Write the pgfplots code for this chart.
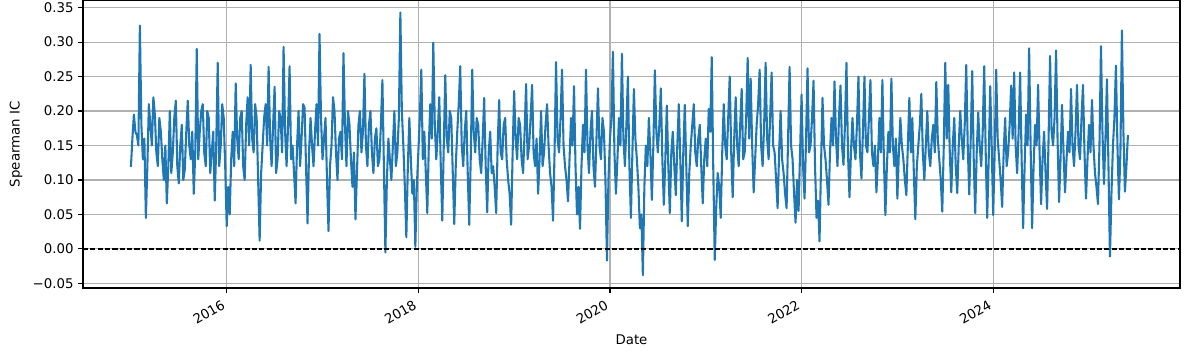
\documentclass[border=0pt]{standalone}
\usepackage{fontspec}
\setmainfont{DejaVu Sans}
\usepackage{pgfplots}
\pgfplotsset{compat=1.18}
\definecolor{tabblue}{HTML}{1F77B4}
\definecolor{gridgray}{HTML}{B0B0B0}
\begin{document}
\begin{tikzpicture}
\begin{axis}[
  at={(0,0)}, anchor=south west,
  scale only axis, width=822.75pt, height=215.7pt,
  xmin=2014.50, xmax=2025.95, ymin=-0.0567, ymax=0.3605,
  xtick={2016,2018,2020,2022,2024},
  xticklabels={2016,2018,2020,2022,2024},
  ytick={-0.05,0,0.05,0.1,0.15,0.2,0.25,0.3,0.35},
  yticklabels={−0.05,0.00,0.05,0.10,0.15,0.20,0.25,0.30,0.35},
  grid=major, grid style={gridgray, line width=0.83pt},
  axis line style={line width=0.83pt},
  tick style={black, line width=0.83pt},
  tick align=outside, major tick length=3.6pt,
  xtick pos=left, ytick pos=left,
  ticklabel style={font=\fontsize{10}{12}\selectfont},
  xticklabel style={xshift=-3pt, rotate=30, anchor=north east},
  xlabel={Date}, ylabel={Spearman IC},
  label style={font=\fontsize{10}{12}\selectfont},
  xlabel style={at={(axis description cs:0.5,-0.181)}, anchor=center},
  ylabel style={at={(axis description cs:-0.0611,0.5)}, anchor=center},
]
\addplot[tabblue, line width=1.56pt, line join=round] table[x expr=2015+\coordindex*0.015625, y index=0, header=false, row sep=\\] {
0.119\\ 0.16\\ 0.195\\ 0.17\\ 0.165\\ 0.15\\ 0.324\\ 0.18\\ 0.13\\ 0.16\\ 0.045\\ 0.12\\ 0.21\\ 0.18\\ 0.15\\ 0.22\\ 0.195\\ 0.14\\ 0.12\\ 0.19\\
0.17\\ 0.13\\ 0.10\\ 0.15\\ 0.066\\ 0.12\\ 0.20\\ 0.11\\ 0.14\\ 0.19\\ 0.215\\ 0.12\\ 0.095\\ 0.15\\ 0.18\\ 0.10\\ 0.115\\ 0.17\\ 0.215\\ 0.15\\
0.13\\ 0.17\\ 0.08\\ 0.14\\ 0.29\\ 0.13\\ 0.17\\ 0.20\\ 0.21\\ 0.14\\ 0.12\\ 0.20\\ 0.19\\ 0.11\\ 0.14\\ 0.17\\ 0.07\\ 0.15\\ 0.27\\ 0.12\\
0.15\\ 0.21\\ 0.19\\ 0.12\\ 0.033\\ 0.09\\ 0.05\\ 0.13\\ 0.17\\ 0.12\\ 0.24\\ 0.16\\ 0.13\\ 0.19\\ 0.20\\ 0.12\\ 0.10\\ 0.18\\ 0.22\\ 0.15\\
0.267\\ 0.16\\ 0.14\\ 0.21\\ 0.19\\ 0.10\\ 0.012\\ 0.11\\ 0.15\\ 0.19\\ 0.21\\ 0.15\\ 0.264\\ 0.16\\ 0.12\\ 0.18\\ 0.235\\ 0.11\\ 0.13\\ 0.20\\
0.19\\ 0.14\\ 0.293\\ 0.17\\ 0.12\\ 0.18\\ 0.265\\ 0.13\\ 0.15\\ 0.11\\ 0.066\\ 0.15\\ 0.20\\ 0.12\\ 0.16\\ 0.21\\ 0.205\\ 0.12\\ 0.037\\ 0.14\\
0.19\\ 0.15\\ 0.12\\ 0.17\\ 0.21\\ 0.15\\ 0.312\\ 0.19\\ 0.13\\ 0.16\\ 0.19\\ 0.10\\ 0.026\\ 0.12\\ 0.15\\ 0.22\\ 0.20\\ 0.14\\ 0.10\\ 0.16\\
0.17\\ 0.13\\ 0.284\\ 0.18\\ 0.12\\ 0.20\\ 0.18\\ 0.13\\ 0.09\\ 0.14\\ 0.043\\ 0.11\\ 0.18\\ 0.20\\ 0.14\\ 0.17\\ 0.254\\ 0.15\\ 0.12\\ 0.18\\
0.20\\ 0.14\\ 0.11\\ 0.16\\ 0.175\\ 0.12\\ 0.13\\ 0.18\\ 0.245\\ 0.12\\ -0.005\\ 0.10\\ 0.16\\ 0.13\\ 0.10\\ 0.15\\ 0.20\\ 0.12\\ 0.14\\ 0.19\\
0.343\\ 0.20\\ 0.15\\ 0.09\\ 0.017\\ 0.12\\ 0.19\\ 0.13\\ 0.08\\ 0.10\\ 0.003\\ 0.09\\ 0.14\\ 0.19\\ 0.26\\ 0.13\\ 0.17\\ 0.11\\ 0.052\\ 0.15\\
0.21\\ 0.16\\ 0.299\\ 0.18\\ 0.13\\ 0.17\\ 0.22\\ 0.12\\ 0.041\\ 0.15\\ 0.252\\ 0.16\\ 0.14\\ 0.20\\ 0.19\\ 0.11\\ 0.036\\ 0.12\\ 0.17\\ 0.21\\
0.265\\ 0.15\\ 0.12\\ 0.17\\ 0.20\\ 0.11\\ 0.035\\ 0.13\\ 0.26\\ 0.17\\ 0.14\\ 0.19\\ 0.18\\ 0.13\\ 0.11\\ 0.16\\ 0.219\\ 0.12\\ 0.053\\ 0.14\\
0.17\\ 0.11\\ 0.12\\ 0.09\\ 0.052\\ 0.15\\ 0.216\\ 0.14\\ 0.13\\ 0.18\\ 0.19\\ 0.13\\ 0.10\\ 0.08\\ 0.035\\ 0.14\\ 0.229\\ 0.16\\ 0.13\\ 0.19\\
0.18\\ 0.13\\ 0.11\\ 0.17\\ 0.239\\ 0.13\\ 0.15\\ 0.19\\ 0.238\\ 0.14\\ 0.12\\ 0.16\\ 0.08\\ 0.13\\ 0.20\\ 0.12\\ 0.14\\ 0.18\\ 0.21\\ 0.15\\
0.11\\ 0.09\\ 0.041\\ 0.14\\ 0.271\\ 0.16\\ 0.14\\ 0.19\\ 0.26\\ 0.15\\ 0.12\\ 0.10\\ 0.069\\ 0.13\\ 0.19\\ 0.15\\ 0.236\\ 0.12\\ 0.05\\ 0.09\\
0.029\\ 0.12\\ 0.18\\ 0.14\\ 0.26\\ 0.15\\ 0.11\\ 0.17\\ 0.20\\ 0.12\\ 0.09\\ 0.16\\ 0.233\\ 0.15\\ 0.13\\ 0.19\\ 0.17\\ 0.10\\ -0.017\\ 0.10\\
0.16\\ 0.19\\ 0.286\\ 0.14\\ 0.08\\ 0.13\\ 0.19\\ 0.15\\ 0.283\\ 0.16\\ 0.12\\ 0.18\\ 0.25\\ 0.12\\ 0.045\\ 0.14\\ 0.232\\ 0.16\\ 0.13\\ 0.09\\
0.03\\ 0.05\\ -0.038\\ 0.09\\ 0.15\\ 0.12\\ 0.19\\ 0.14\\ 0.071\\ 0.15\\ 0.259\\ 0.17\\ 0.14\\ 0.18\\ 0.233\\ 0.13\\ 0.064\\ 0.13\\ 0.208\\ 0.12\\
0.052\\ 0.14\\ 0.17\\ 0.12\\ 0.078\\ 0.15\\ 0.21\\ 0.13\\ 0.04\\ 0.14\\ 0.209\\ 0.12\\ 0.033\\ 0.11\\ 0.15\\ 0.18\\ 0.21\\ 0.14\\ 0.12\\ 0.16\\
0.18\\ 0.12\\ 0.066\\ 0.13\\ 0.16\\ 0.12\\ 0.203\\ 0.17\\ 0.278\\ 0.12\\ -0.016\\ 0.06\\ 0.11\\ 0.09\\ 0.045\\ 0.14\\ 0.21\\ 0.15\\ 0.13\\ 0.19\\
0.25\\ 0.14\\ 0.075\\ 0.16\\ 0.22\\ 0.15\\ 0.12\\ 0.18\\ 0.232\\ 0.13\\ 0.14\\ 0.19\\ 0.277\\ 0.16\\ 0.247\\ 0.15\\ 0.082\\ 0.13\\ 0.18\\ 0.21\\
0.26\\ 0.15\\ 0.12\\ 0.18\\ 0.27\\ 0.16\\ 0.13\\ 0.19\\ 0.256\\ 0.15\\ 0.14\\ 0.10\\ 0.059\\ 0.14\\ 0.20\\ 0.13\\ 0.11\\ 0.08\\ 0.059\\ 0.16\\
0.264\\ 0.15\\ 0.13\\ 0.08\\ 0.038\\ 0.10\\ 0.055\\ 0.14\\ 0.224\\ 0.12\\ 0.073\\ 0.16\\ 0.262\\ 0.14\\ 0.15\\ 0.19\\ 0.244\\ 0.12\\ 0.045\\ 0.07\\
0.011\\ 0.12\\ 0.219\\ 0.15\\ 0.13\\ 0.10\\ 0.064\\ 0.14\\ 0.19\\ 0.15\\ 0.243\\ 0.16\\ 0.12\\ 0.19\\ 0.237\\ 0.15\\ 0.122\\ 0.18\\ 0.27\\ 0.14\\
0.075\\ 0.14\\ 0.19\\ 0.15\\ 0.13\\ 0.18\\ 0.25\\ 0.14\\ 0.102\\ 0.17\\ 0.25\\ 0.15\\ 0.14\\ 0.19\\ 0.245\\ 0.14\\ 0.12\\ 0.15\\ 0.082\\ 0.13\\
0.19\\ 0.14\\ 0.245\\ 0.13\\ 0.049\\ 0.12\\ 0.17\\ 0.14\\ 0.247\\ 0.15\\ 0.12\\ 0.16\\ 0.073\\ 0.14\\ 0.19\\ 0.15\\ 0.13\\ 0.10\\ 0.078\\ 0.15\\
0.219\\ 0.14\\ 0.19\\ 0.11\\ 0.043\\ 0.12\\ 0.15\\ 0.18\\ 0.225\\ 0.14\\ 0.10\\ 0.15\\ 0.20\\ 0.14\\ 0.12\\ 0.16\\ 0.18\\ 0.14\\ 0.242\\ 0.16\\
0.13\\ 0.10\\ 0.054\\ 0.15\\ 0.27\\ 0.16\\ 0.238\\ 0.14\\ 0.082\\ 0.15\\ 0.19\\ 0.12\\ 0.081\\ 0.15\\ 0.20\\ 0.16\\ 0.13\\ 0.18\\ 0.267\\ 0.15\\
0.079\\ 0.16\\ 0.258\\ 0.13\\ 0.052\\ 0.14\\ 0.198\\ 0.15\\ 0.12\\ 0.17\\ 0.265\\ 0.14\\ 0.045\\ 0.13\\ 0.236\\ 0.15\\ 0.049\\ 0.14\\ 0.26\\ 0.16\\
0.13\\ 0.10\\ 0.061\\ 0.14\\ 0.19\\ 0.12\\ 0.14\\ 0.18\\ 0.237\\ 0.16\\ 0.256\\ 0.15\\ 0.11\\ 0.17\\ 0.256\\ 0.13\\ 0.03\\ 0.12\\ 0.195\\ 0.15\\
0.291\\ 0.15\\ 0.03\\ 0.12\\ 0.18\\ 0.15\\ 0.238\\ 0.14\\ 0.065\\ 0.13\\ 0.17\\ 0.11\\ 0.058\\ 0.16\\ 0.28\\ 0.17\\ 0.15\\ 0.19\\ 0.288\\ 0.16\\
0.068\\ 0.13\\ 0.209\\ 0.14\\ 0.082\\ 0.13\\ 0.17\\ 0.14\\ 0.232\\ 0.15\\ 0.12\\ 0.17\\ 0.238\\ 0.15\\ 0.13\\ 0.19\\ 0.238\\ 0.14\\ 0.073\\ 0.13\\
0.18\\ 0.14\\ 0.216\\ 0.15\\ 0.11\\ 0.09\\ 0.065\\ 0.15\\ 0.294\\ 0.17\\ 0.094\\ 0.16\\ 0.246\\ 0.12\\ -0.011\\ 0.08\\ 0.15\\ 0.19\\ 0.266\\ 0.15\\
0.072\\ 0.14\\ 0.317\\ 0.17\\ 0.083\\ 0.12\\ 0.165\\
};
\addplot[black, line width=1.04pt, dash pattern=on 3.85pt off 1.66pt] coordinates {(2014.50,0) (2025.95,0)};
\end{axis}
\pgfresetboundingbox
\useasboundingbox (-62.25pt,-48.75pt) rectangle (828pt,216pt);
\end{tikzpicture}
\end{document}
